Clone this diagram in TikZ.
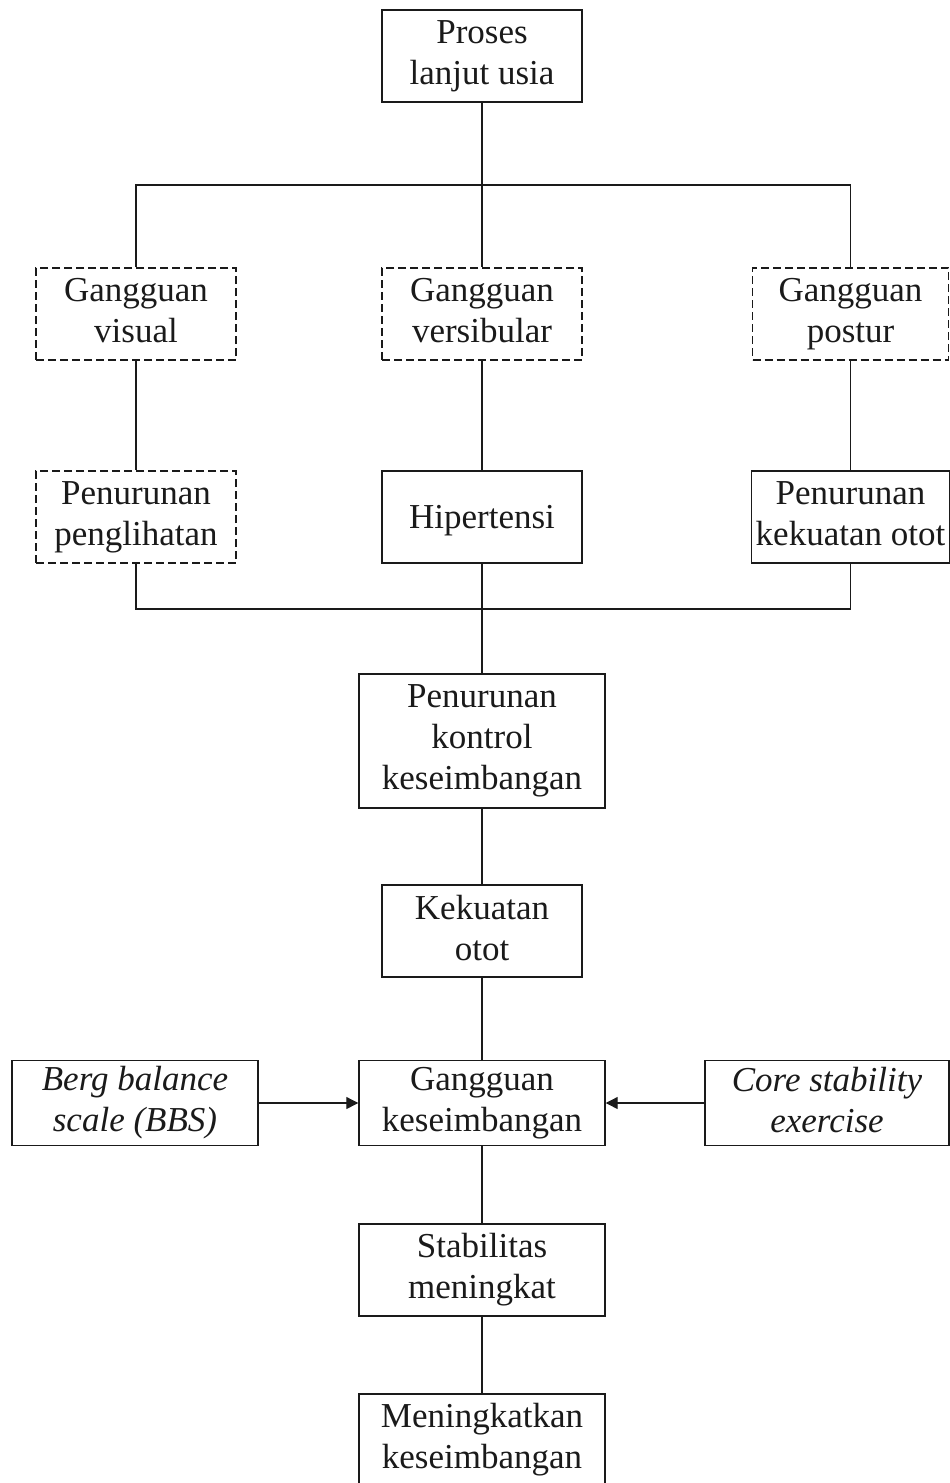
\documentclass[tikz,border=0pt]{standalone}
\usepackage{fontspec}
\setmainfont{Liberation Serif}
\usepackage{xcolor}
\usetikzlibrary{arrows.meta}
\definecolor{ink}{HTML}{1A1A1A}
\tikzset{
  box/.style={draw=ink, line width=0.7pt, align=center, inner sep=2pt,
    minimum width=100pt, minimum height=46pt, font=\fontsize{17.5}{20.5}\selectfont, text=ink,
    execute at begin node=\rule{0pt}{15pt}, execute at end node=\rule[-3.5pt]{0pt}{3.5pt}},
  wbox/.style={box, minimum width=123pt},
  dbox/.style={box, dash pattern=on 4pt off 2pt},
  link/.style={draw=ink, line width=0.6pt},
  arr/.style={link, -{Triangle[length=6pt, width=6pt]}},
}
\begin{document}
\begin{tikzpicture}[x=0.5pt, y=-0.5pt]
  \useasboundingbox (0,0) rectangle (949,1483);
  % boxes
  \node[box] (proses) at (482,56) {Proses\\lanjut usia};
  \node[dbox] (gvisual) at (136,314) {Gangguan\\visual};
  \node[dbox] (gvesti) at (482,314) {Gangguan\\versibular};
  \node[dbox, minimum width=98pt] (gpostur) at (850.5,314) {Gangguan\\postur};
  \node[dbox] (plihat) at (136,517) {Penurunan\\penglihatan};
  \node[box] (hiper) at (482,517) {Hipertensi};
  \node[box, minimum width=98pt] (potot) at (850.5,517) {Penurunan\\kekuatan otot};
  \node[wbox, minimum height=67pt] (kontrol) at (482,741) {Penurunan\\kontrol\\keseimbangan};
  \node[box] (kekuatan) at (482,931) {Kekuatan\\otot};
  \node[wbox, minimum height=42.5pt] (gkes) at (482,1103) {Gangguan\\keseimbangan};
  \node[wbox, minimum height=42.5pt] (berg) at (135,1103) {\itshape Berg balance\\\itshape scale (BBS)};
  \node[wbox, minimum height=42.5pt, minimum width=122pt] (core) at (827,1103) {\itshape Core stability\\\itshape exercise};
  \node[wbox] (stabil) at (482,1270) {Stabilitas\\meningkat};
  \node[wbox] (tingkat) at (482,1440) {Meningkatkan\\keseimbangan};
  % bus points
  \coordinate (bustop) at (482,185);
  \coordinate (busbot) at (482,609);
  % connectors
  \draw[link] (proses) -- (bustop);
  \draw[link] (gvisual.north) |- (bustop) -| (gpostur.north);
  \draw[link] (bustop) -- (gvesti);
  \draw[link] (gvisual) -- (plihat);
  \draw[link] (gvesti) -- (hiper);
  \draw[link] (gpostur) -- (potot);
  \draw[link] (plihat.south) |- (busbot) -| (potot.south);
  \draw[link] (hiper) -- (busbot) -- (kontrol);
  \draw[link] (kontrol) -- (kekuatan);
  \draw[link] (kekuatan) -- (gkes);
  \draw[link] (gkes) -- (stabil);
  \draw[link] (stabil) -- (tingkat);
  \draw[arr] (berg) -- (gkes);
  \draw[arr] (core) -- (gkes);
\end{tikzpicture}
\end{document}
